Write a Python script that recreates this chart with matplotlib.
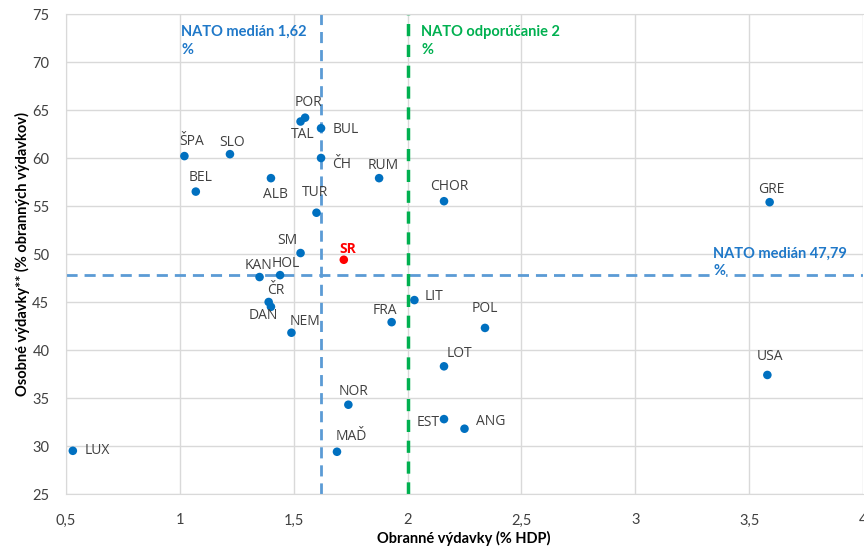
import matplotlib
matplotlib.use("Agg")
import matplotlib.pyplot as plt
from matplotlib.ticker import FuncFormatter, MultipleLocator

countries = ["LUX", "ŠPA", "BEL", "SLO", "ALB", "POR", "TAL", "BUL", "ČH", "RUM",
             "TUR", "SM", "SR", "KAN", "HOL", "ČR", "DAN", "NEM", "FRA", "LIT",
             "POL", "LOT", "NOR", "EST", "ANG", "MAĎ", "CHOR", "GRE", "USA"]
defense_gdp = [0.53, 1.02, 1.07, 1.22, 1.40, 1.55, 1.53, 1.62, 1.62, 1.875,
               1.60, 1.53, 1.72, 1.35, 1.44, 1.39, 1.40, 1.49, 1.93, 2.03,
               2.34, 2.16, 1.74, 2.16, 2.25, 1.69, 2.16, 3.59, 3.58]
personnel_share = [29.5, 60.2, 56.5, 60.4, 57.9, 64.2, 63.8, 63.1, 60.0, 57.9,
                   54.3, 50.1, 49.4, 47.6, 47.8, 45.0, 44.5, 41.8, 42.9, 45.2,
                   42.3, 38.3, 34.3, 32.8, 31.8, 29.4, 55.5, 55.4, 37.4]
median_x = 1.62
median_y = 47.79
nato_target = 2.0

# label offsets in pixels (style only)
offsets = {
    "LUX": (12, 0, "left"), "ŠPA": (7, -15, "center"), "BEL": (5, -14, "center"),
    "SLO": (2, -12, "center"), "ALB": (4, 16, "center"), "POR": (3, -15, "center"),
    "TAL": (2, 13, "center"), "BUL": (12, 1, "left"), "ČH": (11, 7, "left"),
    "RUM": (4, -13, "center"), "TUR": (-1, -20, "center"), "SM": (-13, -13, "center"),
    "SR": (4, -11, "center"), "KAN": (-1, -12, "center"), "HOL": (6, -12, "center"),
    "ČR": (7, -12, "center"), "DAN": (-8, 9, "center"), "NEM": (14, -11, "center"),
    "FRA": (-7, -12, "center"), "LIT": (10, -4, "left"), "POL": (0, -19, "center"),
    "LOT": (15, -13, "center"), "NOR": (5, -13, "center"), "EST": (-4, 3, "right"),
    "ANG": (12, -7, "left"), "MAĎ": (14, -15, "center"), "CHOR": (5, -15, "center"),
    "GRE": (2, -13, "center"), "USA": (3, -18, "center"),
}

W, H = 864, 547
fig = plt.figure(figsize=(W / 100, H / 100), dpi=100)
L, R, T, B = 66, 863, 14, 494
ax = fig.add_axes([L / W, 1 - B / H, (R - L) / W, (B - T) / H])

narrow = ["Lato", "DejaVu Sans"]

ax.set_xlim(0.5, 4)
ax.set_ylim(25, 75)
ax.xaxis.set_major_locator(MultipleLocator(0.5))
ax.yaxis.set_major_locator(MultipleLocator(5))
ax.xaxis.set_major_formatter(FuncFormatter(lambda v, p: ("%g" % v).replace(".", ",")))
ax.grid(True, color="#D9D9D9", linewidth=1)
ax.set_axisbelow(True)
for s in ax.spines.values():
    s.set_color("#D9D9D9")
ax.spines["right"].set_visible(False)
ax.tick_params(length=0, labelsize=10.5, colors="#404040")
ax.tick_params(axis="y", pad=12)
ax.tick_params(axis="x", pad=14)
for lab in ax.get_xticklabels() + ax.get_yticklabels():
    lab.set_family(narrow)

ax.axvline(median_x, color="#5B9BD5", linestyle=(0, (4, 2.5)), linewidth=2, zorder=2)
ax.axhline(median_y, color="#5B9BD5", linestyle=(0, (4, 2.5)), linewidth=2, zorder=2)
ax.axvline(nato_target, color="#00B050", linestyle=(0, (3.5, 2.5)), linewidth=2.5, zorder=2)

colors = ["#FF0000" if c == "SR" else "#0070C0" for c in countries]
ax.scatter(defense_gdp, personnel_share, s=38, c=colors, zorder=3, linewidths=0)

for c, x, y in zip(countries, defense_gdp, personnel_share):
    dx, dy, ha = offsets[c]
    kw = dict(color="#404040", fontsize=10, family=["Open Sans", "DejaVu Sans"])
    if c == "SR":
        kw.update(color="#FF0000", fontweight="bold")
    ax.annotate(c, (x, y), xytext=(dx * 0.72, -dy * 0.72), textcoords="offset points",
                ha=ha, va="center", zorder=4, **kw)

def px(xp, yp):
    return (xp / W, 1 - yp / H)

fig.text(*px(181, 32), "NATO medián 1,62", color="#1F78C8", fontsize=10.5,
         fontweight="bold", family=narrow, va="center", ha="left")
fig.text(*px(181, 50), "%", color="#1F78C8", fontsize=10.5,
         fontweight="bold", family=narrow, va="center", ha="left")
fig.text(*px(421, 32), "NATO odporúčanie 2", color="#00B050", fontsize=10.5,
         fontweight="bold", family=narrow, va="center", ha="left")
fig.text(*px(421, 50), "%", color="#00B050", fontsize=10.5,
         fontweight="bold", family=narrow, va="center", ha="left")
fig.text(*px(713, 254), "NATO medián 47,79", color="#1F78C8", fontsize=10.5,
         fontweight="bold", family=narrow, va="center", ha="left")
fig.text(*px(713, 271), "%", color="#1F78C8", fontsize=10.5,
         fontweight="bold", family=narrow, va="center", ha="left",
         bbox=dict(facecolor="white", edgecolor="none", pad=0.5))

fig.text(*px(464, 538), "Obranné výdavky (% HDP)", fontsize=10.5, fontweight="bold",
         family=narrow, ha="center", va="center", color="#000000")
fig.text(*px(22, 254), "Osobné výdavky** (% obranných výdavkov)", fontsize=10.5,
         fontweight="bold", family=narrow, ha="center", va="center", rotation=90,
         color="#000000")

fig.savefig("out.png", dpi=100)
